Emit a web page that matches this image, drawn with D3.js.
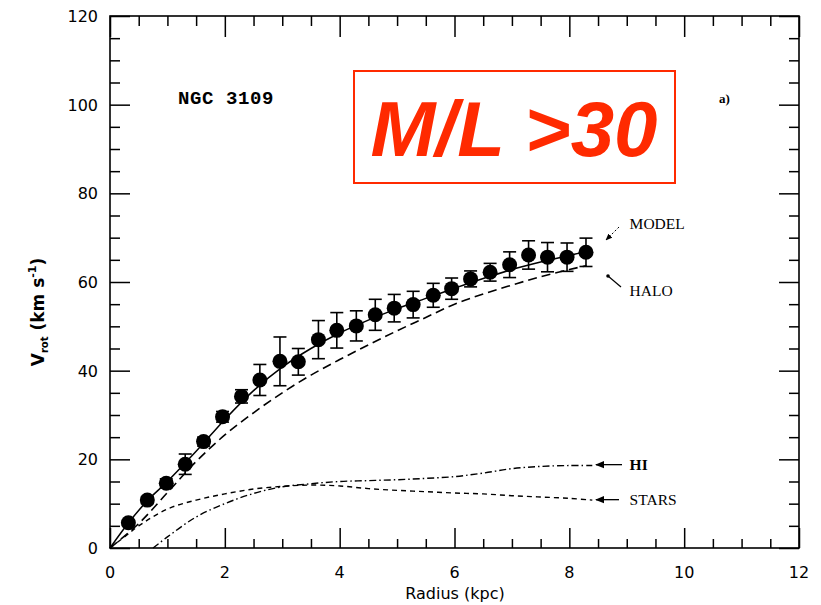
<!DOCTYPE html>
<html>
<head>
<meta charset="utf-8">
<script src="https://cdn.jsdelivr.net/npm/d3@7/dist/d3.min.js"></script>
<style>
  html, body { margin: 0; padding: 0; background: #fff; }
  svg { display: block; }
</style>
</head>
<body>
<svg id="chart" width="821" height="605"></svg>
<script>
// ---- data ----
const radius = [0.32, 0.65, 0.98, 1.31, 1.63, 1.96, 2.29, 2.61, 2.96, 3.28, 3.63, 3.95, 4.29, 4.62, 4.95, 5.28, 5.63, 5.95, 6.28, 6.62, 6.96, 7.29, 7.62, 7.96, 8.29];
const vrot   = [5.7, 10.8, 14.6, 18.9, 24.0, 29.6, 34.2, 37.9, 42.1, 42.0, 47.0, 49.1, 50.1, 52.6, 54.1, 54.9, 57.0, 58.5, 60.7, 62.2, 63.9, 66.1, 65.6, 65.6, 66.7];
const verr   = [0.5, 0.8, 1.0, 2.3, 1.0, 1.2, 1.5, 3.5, 5.5, 3.0, 4.3, 4.0, 3.4, 3.5, 3.1, 3.0, 2.7, 2.4, 1.8, 2.0, 2.9, 3.2, 3.3, 3.2, 3.2];

const modelR = [0, 0.33, 0.66, 1.0, 1.5, 2.0, 2.5, 3.0, 3.5, 4.0, 4.5, 5.0, 5.5, 6.0, 6.5, 7.0, 7.5, 8.0, 8.3];
const modelV = [0, 5.8, 10.8, 15.0, 21.8, 29.0, 35.5, 40.8, 45.0, 48.5, 51.4, 54.0, 56.3, 58.6, 60.8, 62.8, 64.5, 66.0, 66.8];

const haloR = [0, 0.5, 1.0, 1.5, 2.0, 2.5, 3.0, 3.5, 4.0, 4.5, 5.0, 5.5, 6.0, 6.5, 7.0, 7.5, 8.0, 8.3];
const haloV = [0, 5.5, 12.5, 19.5, 25.5, 30.5, 35.0, 39.0, 42.5, 45.8, 49.0, 52.0, 55.0, 57.3, 59.3, 61.2, 62.8, 63.7];

const starsR = [0, 0.3, 0.5, 1.0, 1.5, 2.0, 2.5, 3.0, 3.5, 4.0, 4.5, 5.0, 5.5, 6.0, 6.5, 7.0, 7.5, 8.0, 8.4];
const starsV = [0, 3.0, 5.0, 8.8, 10.8, 12.2, 13.3, 13.9, 14.2, 14.0, 13.4, 13.0, 12.7, 12.4, 12.2, 11.8, 11.5, 11.2, 10.8];

const hiR = [0.75, 1.0, 1.5, 2.0, 2.5, 3.0, 3.5, 4.0, 4.5, 5.0, 5.5, 6.0, 6.5, 7.0, 7.5, 8.0, 8.4];
const hiV = [0, 2.5, 7.0, 10.0, 12.3, 13.8, 14.5, 15.0, 15.2, 15.4, 15.7, 16.1, 16.9, 17.9, 18.4, 18.6, 18.6];

const xTicks = [0, 2, 4, 6, 8, 10, 12];
const yTicks = [0, 20, 40, 60, 80, 100, 120];
const xMinor = d3.range(0, 12.01, 0.5);
const yMinor = d3.range(0, 120.01, 5);

const curveLabels = [
  {name: "MODEL", r: 9.05, v: 73.0},
  {name: "HALO",  r: 9.05, v: 58.0},
  {name: "HI",    r: 9.05, v: 18.8},
  {name: "STARS", r: 9.05, v: 10.9}
];

// ---- layout ----
const svg = d3.select("#chart");
const L = 110, R = 799, T = 16, B = 548;
const x = d3.scaleLinear().domain([0, 12]).range([L, R]);
const y = d3.scaleLinear().domain([0, 120]).range([B, T]);

const tickFont = "'DejaVu Sans', sans-serif";

// frame
svg.append("rect").attr("x", L).attr("y", T).attr("width", R - L).attr("height", B - T)
  .attr("fill", "none").attr("stroke", "#000").attr("stroke-width", 1.6);

// axes with inward ticks
function isMajorX(d) { return Math.abs(d % 2) < 1e-6; }
function isMajorY(d) { return Math.abs(d % 20) < 1e-6; }

const gBottom = svg.append("g").attr("transform", `translate(0,${B})`)
  .call(d3.axisBottom(x).tickValues(xMinor).tickSizeInner(-9).tickSizeOuter(0).tickFormat(""));
gBottom.selectAll(".tick line").filter(d => isMajorX(d)).attr("y2", -20);
const gTop = svg.append("g").attr("transform", `translate(0,${T})`)
  .call(d3.axisTop(x).tickValues(xMinor).tickSizeInner(-10).tickSizeOuter(0).tickFormat(""));
gTop.selectAll(".tick line").filter(d => isMajorX(d)).attr("y2", 21);
const gLeft = svg.append("g").attr("transform", `translate(${L},0)`)
  .call(d3.axisLeft(y).tickValues(yMinor).tickSizeInner(-10).tickSizeOuter(0).tickFormat(""));
gLeft.selectAll(".tick line").filter(d => isMajorY(d)).attr("x2", 20);
const gRight = svg.append("g").attr("transform", `translate(${R},0)`)
  .call(d3.axisRight(y).tickValues(yMinor).tickSizeInner(-10).tickSizeOuter(0).tickFormat(""));
gRight.selectAll(".tick line").filter(d => isMajorY(d)).attr("x2", -20);
[gBottom, gTop, gLeft, gRight].forEach(g => {
  g.select(".domain").remove();
  g.selectAll(".tick line").attr("stroke", "#000").attr("stroke-width", 1.5);
});

// tick labels
svg.append("g").selectAll("text").data(xTicks).join("text")
  .attr("x", d => x(d)).attr("y", 578).attr("text-anchor", "middle")
  .attr("font-family", tickFont).attr("font-size", 16).text(d => d);
svg.append("g").selectAll("text").data(yTicks).join("text")
  .attr("x", 98).attr("y", d => y(d) + 6).attr("text-anchor", "end")
  .attr("font-family", tickFont).attr("font-size", 16).text(d => d);

// axis titles
svg.append("text").attr("x", 455).attr("y", 599).attr("text-anchor", "middle")
  .attr("font-family", tickFont).attr("font-size", 16).text("Radius (kpc)");
const yl = svg.append("text").attr("transform", "translate(44,312) rotate(-90)")
  .attr("text-anchor", "middle").attr("font-family", tickFont).attr("font-size", 17).attr("font-weight", "bold");
yl.append("tspan").text("V");
yl.append("tspan").attr("font-size", 10).attr("dy", 4).text("rot");
yl.append("tspan").attr("dy", -4).text("  (km s");
yl.append("tspan").attr("font-size", 11).attr("dy", -8).text("-1");
yl.append("tspan").attr("dy", 8).text(")");

// curves
const line = d3.line().x(d => x(d[0])).y(d => y(d[1])).curve(d3.curveCatmullRom);
const zip = (a, b) => a.map((v, i) => [v, b[i]]);
svg.append("path").datum(zip(haloR, haloV)).attr("d", line)
  .attr("fill", "none").attr("stroke", "#000").attr("stroke-width", 1.6).attr("stroke-dasharray", "9,5");
svg.append("path").datum(zip(starsR, starsV)).attr("d", line)
  .attr("fill", "none").attr("stroke", "#000").attr("stroke-width", 1.4).attr("stroke-dasharray", "5,4");
svg.append("path").datum(zip(hiR, hiV)).attr("d", line)
  .attr("fill", "none").attr("stroke", "#000").attr("stroke-width", 1.4).attr("stroke-dasharray", "7,3,1.5,3");
svg.append("path").datum(zip(modelR, modelV)).attr("d", line)
  .attr("fill", "none").attr("stroke", "#000").attr("stroke-width", 1.5);

// error bars and points
const pts = radius.map((r, i) => ({r, v: vrot[i], e: verr[i]}));
const gE = svg.append("g").attr("stroke", "#000").attr("stroke-width", 1.6);
gE.selectAll("line.v").data(pts).join("line").attr("class", "v")
  .attr("x1", d => x(d.r)).attr("x2", d => x(d.r))
  .attr("y1", d => y(d.v - d.e)).attr("y2", d => y(d.v + d.e));
gE.selectAll("line.t").data(pts).join("line").attr("class", "t")
  .attr("x1", d => x(d.r) - 6.5).attr("x2", d => x(d.r) + 6.5)
  .attr("y1", d => y(d.v + d.e)).attr("y2", d => y(d.v + d.e));
gE.selectAll("line.b").data(pts).join("line").attr("class", "b")
  .attr("x1", d => x(d.r) - 6.5).attr("x2", d => x(d.r) + 6.5)
  .attr("y1", d => y(d.v - d.e)).attr("y2", d => y(d.v - d.e));
svg.append("g").selectAll("circle").data(pts).join("circle")
  .attr("cx", d => x(d.r)).attr("cy", d => y(d.v)).attr("r", 7.5).attr("fill", "#000");

// curve labels
const lblFont = "'Liberation Serif', 'Times New Roman', serif";
svg.append("g").selectAll("text").data(curveLabels).join("text")
  .attr("x", d => x(d.r)).attr("y", d => y(d.v) + 5)
  .attr("font-family", lblFont).attr("font-size", 15.5)
  .attr("font-weight", d => d.name === "HI" ? "bold" : "normal")
  .text(d => d.name);

// arrows
const defs = svg.append("defs");
defs.append("marker").attr("id", "ah").attr("viewBox", "0 0 10 10").attr("refX", 9).attr("refY", 5)
  .attr("markerWidth", 7).attr("markerHeight", 7).attr("orient", "auto-start-reverse")
  .append("path").attr("d", "M0,1 L10,5 L0,9 Z").attr("fill", "#000");
// MODEL arrow (dotted, pointing down-left)
svg.append("line").attr("x1", 619).attr("y1", 227).attr("x2", 606).attr("y2", 240)
  .attr("stroke", "#000").attr("stroke-width", 1).attr("stroke-dasharray", "2,2").attr("marker-end", "url(#ah)");
// HALO pointer
svg.append("line").attr("x1", 608).attr("y1", 276).attr("x2", 621).attr("y2", 287)
  .attr("stroke", "#000").attr("stroke-width", 1.2);
svg.append("circle").attr("cx", 608).attr("cy", 276).attr("r", 1.8).attr("fill", "#000");
// HI and STARS arrows
svg.append("line").attr("x1", 622).attr("y1", y(18.8)).attr("x2", 596).attr("y2", y(18.8))
  .attr("stroke", "#000").attr("stroke-width", 1.3).attr("marker-end", "url(#ah)");
svg.append("line").attr("x1", 619).attr("y1", y(10.9)).attr("x2", 596).attr("y2", y(10.9))
  .attr("stroke", "#000").attr("stroke-width", 1.3).attr("marker-end", "url(#ah)");

// annotations
svg.append("text").attr("x", 178).attr("y", 104)
  .attr("font-family", "'Liberation Mono', 'DejaVu Sans Mono', monospace").attr("font-weight", "bold")
  .attr("font-size", 19).attr("letter-spacing", 0.6).text("NGC 3109");
svg.append("text").attr("x", 719).attr("y", 103)
  .attr("font-family", lblFont).attr("font-weight", "bold").attr("font-size", 13).text("a)");

// red box
const red = "#ff2a00";
svg.append("rect").attr("x", 354).attr("y", 71).attr("width", 321).attr("height", 112)
  .attr("fill", "#fff").attr("stroke", red).attr("stroke-width", 2);
svg.append("text").attr("x", 514).attr("y", 156).attr("text-anchor", "middle")
  .attr("font-family", "'Liberation Sans', Arial, sans-serif").attr("font-weight", "bold")
  .attr("font-style", "italic").attr("font-size", 78).attr("fill", red).text("M/L >30");
</script>
</body>
</html>
